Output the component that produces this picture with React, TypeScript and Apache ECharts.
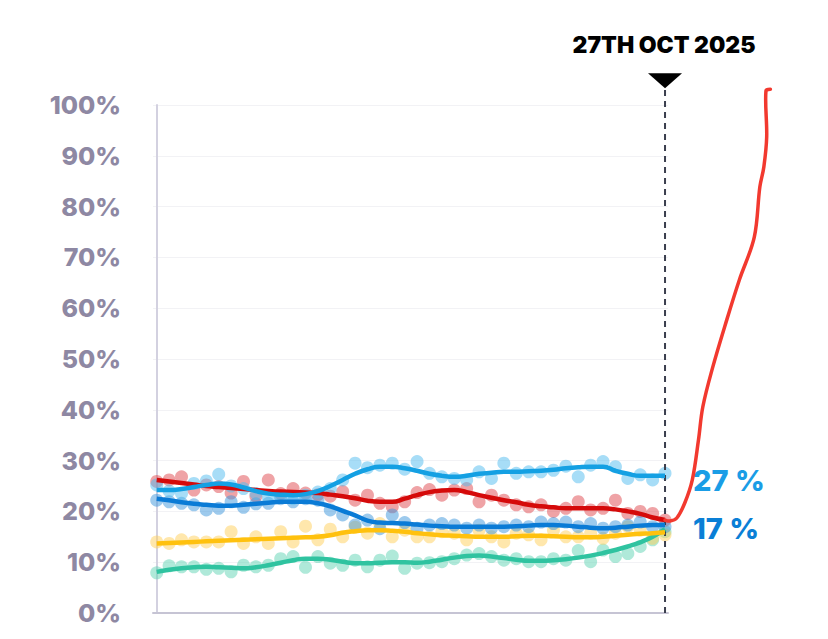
import React, { useEffect, useRef } from "react";
import * as echarts from "echarts";

// y-axis ticks (percent)
const yTicks = [0, 10, 20, 30, 40, 50, 60, 70, 80, 90, 100];

// poll points (index 0..41), light blue / red / blue / yellow / green
const lightBluePts = [25.2, 24.0, 23.5, 25.5, 26.0, 27.3, 25.0, 24.5, 23.5, 22.8, 23.0, 22.5, 23.2, 23.8, 24.5, 26.2, 29.5, 28.6, 29.1, 29.5, 28.3, 29.8, 27.5, 26.8, 26.5, 26.2, 27.8, 26.5, 29.5, 27.5, 27.8, 27.8, 28.1, 28.9, 26.8, 29.1, 29.8, 28.8, 26.5, 27.2, 26.2, 27.5];
const redPts = [25.9, 26.2, 26.8, 24.2, 25.2, 24.9, 23.6, 25.9, 23.0, 26.2, 23.5, 24.5, 23.6, 23.3, 23.0, 23.9, 22.2, 23.2, 21.6, 20.9, 21.9, 23.7, 24.3, 23.2, 24.2, 24.5, 21.9, 23.2, 22.2, 21.3, 20.9, 21.3, 20.0, 20.6, 21.9, 20.3, 20.6, 22.2, 19.6, 20.0, 19.6, 18.3];
const bluePts = [22.2, 21.9, 21.6, 21.3, 20.3, 20.6, 21.9, 20.8, 21.5, 21.6, 22.5, 21.9, 22.5, 22.2, 20.3, 19.3, 17.3, 18.3, 16.6, 19.3, 17.8, 16.7, 17.3, 17.6, 17.3, 16.7, 17.3, 16.7, 17.0, 17.3, 17.0, 17.9, 17.6, 17.9, 17.0, 17.6, 16.7, 17.0, 17.3, 17.9, 17.0, 17.0];
const yellowPts = [14.0, 13.7, 14.4, 14.0, 14.0, 14.0, 16.0, 13.7, 15.0, 13.7, 16.0, 14.0, 17.1, 14.4, 16.5, 15.0, 16.9, 15.7, 17.6, 15.0, 16.3, 15.0, 15.0, 16.0, 15.7, 14.4, 16.3, 15.0, 14.0, 15.7, 15.4, 14.4, 16.3, 15.0, 15.0, 15.7, 14.7, 15.7, 17.0, 16.3, 14.7, 15.4];
const greenPts = [7.9, 9.3, 9.1, 9.1, 8.6, 8.8, 8.1, 9.4, 9.1, 9.4, 10.7, 11.1, 9.0, 11.1, 9.8, 9.4, 10.4, 9.1, 10.4, 11.2, 8.8, 9.8, 9.9, 10.1, 10.7, 11.4, 11.7, 11.1, 10.4, 10.7, 10.1, 10.1, 10.7, 10.4, 12.3, 10.1, 12.4, 11.1, 11.7, 13.1, 14.4, 16.0];

// smoothed trend lines
const lightBlueLine = [24.2, 24.2, 24.4, 24.8, 25.2, 25.5, 25.3, 24.7, 24.0, 23.5, 23.3, 23.2, 23.4, 24.0, 25.0, 26.2, 27.4, 28.3, 28.8, 28.8, 28.5, 28.0, 27.4, 27.0, 26.8, 27.0, 27.4, 27.6, 27.8, 27.8, 27.9, 28.0, 28.2, 28.5, 28.7, 28.8, 28.8, 28.0, 27.4, 27.0, 27.0, 27.0];
const redLine = [26.2, 25.9, 25.6, 25.3, 25.0, 24.8, 24.6, 24.4, 24.2, 24.0, 23.9, 23.8, 23.7, 23.6, 23.3, 23.0, 22.6, 22.1, 21.9, 21.9, 22.5, 23.2, 23.8, 24.1, 24.2, 23.8, 23.2, 22.7, 22.2, 21.8, 21.3, 21.0, 20.8, 20.6, 20.6, 20.6, 20.6, 20.4, 20.0, 19.5, 18.8, 18.3];
const blueLine = [22.5, 22.2, 21.8, 21.5, 21.3, 21.1, 21.1, 21.3, 21.5, 21.7, 21.9, 21.9, 21.9, 21.6, 21.0, 20.1, 19.2, 18.2, 17.8, 17.7, 17.6, 17.4, 17.2, 17.1, 17.0, 17.0, 17.0, 17.0, 17.0, 17.1, 17.2, 17.3, 17.3, 17.2, 17.0, 16.8, 16.7, 16.8, 17.0, 17.2, 17.3, 17.3];
const yellowLine = [13.7, 13.8, 13.9, 14.0, 14.1, 14.2, 14.3, 14.4, 14.5, 14.6, 14.7, 14.8, 14.9, 15.0, 15.3, 15.8, 16.1, 16.3, 16.3, 16.2, 16.0, 15.7, 15.5, 15.3, 15.2, 15.1, 15.0, 15.0, 15.0, 15.1, 15.2, 15.2, 15.1, 15.0, 14.9, 14.9, 15.0, 15.2, 15.4, 15.6, 15.7, 15.9];
const greenLine = [8.1, 8.5, 8.8, 9.0, 9.1, 9.0, 8.9, 8.8, 9.0, 9.4, 9.9, 10.4, 10.7, 10.7, 10.5, 10.1, 9.8, 9.8, 9.9, 10.0, 10.0, 9.9, 10.1, 10.5, 10.9, 11.2, 11.3, 11.1, 10.8, 10.5, 10.3, 10.3, 10.4, 10.6, 10.9, 11.3, 11.8, 12.4, 13.1, 13.9, 15.0, 16.5];

// hand-drawn red projection after the marker date: [index, percent]
const redProjection = [[41, 18.3], [41.4, 18.1], [41.95, 18.7], [42.6, 21.7], [43.2, 26.2], [43.7, 34.1], [44.05, 40.6], [44.85, 48.4], [45.98, 57.7], [47.0, 65.6], [48.2, 74.0], [48.65, 83.9], [48.97, 87.8], [49.2, 93.7], [49.14, 102.8], [49.5, 103.1]];

const markerIndex = 41;
const markerLabel = "27TH OCT 2025";
const markerTop = 103.3;

const FONT = "Inter";

function toXY(arr: number[]) {
  return arr.map((v, i) => [i, v]);
}

export default function App() {
  const ref = useRef<HTMLDivElement>(null);
  useEffect(() => {
    document.body.style.margin = "0";
    const chart = echarts.init(ref.current!, null, { renderer: "svg" });
    const scatter = (data: number[], color: string) => ({
      type: "scatter",
      data: toXY(data),
      symbol: "circle",
      symbolSize: 13,
      itemStyle: { color, opacity: 0.5 },
      z: 1,
      silent: true,
    });
    const line = (data: number[], color: string, extra: any = {}) => ({
      type: "line",
      data: toXY(data),
      smooth: 0.5,
      showSymbol: false,
      lineStyle: { color, width: 4.5 },
      itemStyle: { color },
      z: 3,
      silent: true,
      ...extra,
    });
    const lbLast = lightBlueLine[lightBlueLine.length - 1];
    const blueLast = blueLine[blueLine.length - 1];
    chart.setOption({
      animation: false,
      backgroundColor: "#ffffff",
      grid: { left: 153, right: 160, top: 105, bottom: 26, containLabel: false },
      xAxis: {
        type: "value",
        min: -0.3,
        max: 41.24,
        axisLine: { show: true, lineStyle: { color: "#c6c4d4", width: 2 } },
        axisTick: { show: false },
        axisLabel: { show: false },
        splitLine: { show: false },
      },
      yAxis: {
        type: "value",
        min: yTicks[0],
        max: yTicks[yTicks.length - 1],
        interval: 10,
        axisLine: { show: true, lineStyle: { color: "#d3d1e0", width: 2 } },
        axisTick: { show: false },
        axisLabel: {
          formatter: "{value}%",
          color: "#8e88a3",
          fontFamily: FONT,
          fontWeight: 800,
          fontSize: 25,
          margin: 32,
        },
        splitLine: { show: true, lineStyle: { color: "#f2f2f5", width: 1 } },
      },
      series: [
        scatter(greenPts, "#5fd3b3"),
        scatter(yellowPts, "#ffcf5a"),
        scatter(redPts, "#e0474d"),
        scatter(bluePts, "#3b95dc"),
        scatter(lightBluePts, "#4fbcf0"),
        {
          type: "custom",
          clip: false,
          silent: true,
          z: 2,
          data: [[markerIndex, markerTop]],
          renderItem: (params: any, api: any) => {
            const bottom = api.coord([markerIndex, 0]);
            const top = api.coord([markerIndex, markerTop]);
            return {
              type: "group",
              children: [
                {
                  type: "line",
                  shape: { x1: bottom[0], y1: bottom[1], x2: top[0], y2: top[1] },
                  style: { stroke: "#3b3f4e", lineWidth: 2, lineDash: [6, 5] },
                },
                {
                  type: "polygon",
                  shape: {
                    points: [
                      [top[0] - 17, top[1] - 15],
                      [top[0] + 17, top[1] - 15],
                      [top[0], top[1]],
                    ],
                  },
                  style: { fill: "#000000" },
                },
                {
                  type: "text",
                  x: top[0] - 1,
                  y: top[1] - 32,
                  style: {
                    text: markerLabel,
                    fill: "#000000",
                    font: `900 23px ${FONT}`,
                    align: "center",
                    verticalAlign: "bottom",
                  },
                },
              ],
            };
          },
        },
        line(greenLine, "#2fc3a0"),
        line(yellowLine, "#ffc10e"),
        line(redLine, "#d50a0a"),
        line(blueLine, "#0a7bd6", {
          endLabel: {
            show: true,
            formatter: Math.round(blueLast) + " %",
            color: "#0a7fd6",
            fontFamily: FONT,
            fontWeight: 800,
            fontSize: 29,
            distance: 28,
            offset: [0, 3],
          },
        }),
        line(lightBlueLine, "#14a0e3", {
          endLabel: {
            show: true,
            formatter: Math.round(lbLast) + " %",
            color: "#1a9de6",
            fontFamily: FONT,
            fontWeight: 800,
            fontSize: 29,
            distance: 28,
            offset: [0, 5],
          },
        }),
        {
          type: "custom",
          clip: false,
          silent: true,
          z: 4,
          data: [redProjection[0]],
          renderItem: (params: any, api: any) => {
            const pts = redProjection.map((p) => api.coord(p));
            return {
              type: "polyline",
              shape: { points: pts, smooth: 0.35 },
              style: { stroke: "#f2392f", lineWidth: 3.5, fill: null, lineCap: "round", lineJoin: "round" },
            };
          },
        },
      ],
    });
    return () => chart.dispose();
  }, []);
  return <div ref={ref} style={{ width: 828, height: 639 }} />;
}
